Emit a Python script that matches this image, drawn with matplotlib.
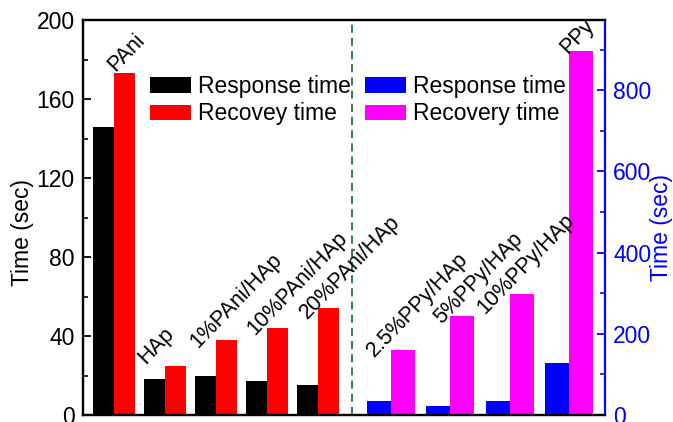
import numpy as np
import matplotlib
matplotlib.use("Agg")
import matplotlib.pyplot as plt
from matplotlib.ticker import MultipleLocator

plt.rcParams['font.family'] = ['Liberation Sans', 'DejaVu Sans']

# PAni / HAp series (left axis)
pani_labels = ["PAni", "HAp", "1%PAni/HAp", "10%PAni/HAp", "20%PAni/HAp"]
pani_response = [146, 18, 20, 17, 15]
pani_recovery = [173, 25, 38, 44, 54]

# PPy / HAp series (right axis)
ppy_labels = ["2.5%PPy/HAp", "5%PPy/HAp", "10%PPy/HAp", "PPy"]
ppy_response = [35, 23, 34, 128]
ppy_recovery = [160, 244, 298, 897]

FS = 16.5

fig = plt.figure(figsize=(6.73, 4.22), dpi=100)
ax = fig.add_axes([83/673, 1 - 415/422, (605-83)/673, (415-20)/422])
ax2 = ax.twinx()

# bar geometry
w1 = 0.41
x1 = np.arange(len(pani_labels)) * 1.0
w2 = 0.47
x2 = 5.43 + np.arange(len(ppy_labels)) * 1.163

ax.bar(x1 - w1/2, pani_response, w1, color='black', label='Response time')
ax.bar(x1 + w1/2, pani_recovery, w1, color='#ff0000', label='Recovey time')
ax2.bar(x2 - w2/2, ppy_response, w2, color='#0000ff', label='Response time')
ax2.bar(x2 + w2/2, ppy_recovery, w2, color='#ff00ff', label='Recovery time')

ax.axvline(4.67, color='#1b7a3c', lw=1.3, ls=(0, (4.5, 2.8)))

ax.set_xlim(-0.608, 9.627)
ax.set_ylim(0, 200)
ax2.set_ylim(0, 973)
ax.set_xticks([])

ax.yaxis.set_major_locator(MultipleLocator(40))
ax.yaxis.set_minor_locator(MultipleLocator(20))
ax2.yaxis.set_major_locator(MultipleLocator(200))
ax2.yaxis.set_minor_locator(MultipleLocator(100))

ax.tick_params(axis='y', which='major', direction='in', length=6, width=1.3,
               labelsize=FS, pad=6)
ax.tick_params(axis='y', which='minor', direction='in', length=3.5, width=1.2)
ax2.tick_params(axis='y', which='major', direction='in', length=6, width=1.3,
                labelsize=FS, pad=6, colors='#0000ff')
ax2.tick_params(axis='y', which='minor', direction='in', length=3.5, width=1.2,
                colors='#0000ff')

for s in ['left', 'top', 'bottom']:
    ax.spines[s].set_linewidth(1.6)
    ax2.spines[s].set_linewidth(1.6)
ax2.spines['right'].set_color('#0000ff')
ax2.spines['right'].set_linewidth(1.6)
ax.spines['right'].set_visible(False)

ax.set_ylabel("Time (sec)", fontsize=FS)
ax2.set_ylabel("Time (sec)", fontsize=FS, color='#0000ff')
ax.yaxis.set_label_coords(-0.093, 0.463)
ax2.yaxis.set_label_coords(1.087, 0.475)

# rotated category labels above each group
pani_offsets = [(22, 1), (2, 1), (3, -9), (9, -7), (10, -11)]
ppy_offsets = [(7, -7), (15, -9), (-1, -21), (23, -4)]
for xc, top, lab, (dx, dy) in zip(x1, pani_recovery, pani_labels, pani_offsets):
    ax.annotate(lab, xy=(xc - w1, top), xytext=(dx * 0.72, dy * 0.72),
                textcoords='offset points', rotation=46, rotation_mode='anchor',
                ha='left', va='baseline', fontsize=15.5)
for xc, top, lab, (dx, dy) in zip(x2, ppy_recovery, ppy_labels, ppy_offsets):
    ax2.annotate(lab, xy=(xc - w2, top), xytext=(dx * 0.72, dy * 0.72),
                 textcoords='offset points', rotation=46, rotation_mode='anchor',
                 ha='left', va='baseline', fontsize=15.5)

leg_kw = dict(loc='upper left', frameon=False, fontsize=FS, handlelength=1.8,
              handleheight=0.65, handletextpad=0.3, labelspacing=0.2,
              borderaxespad=0, borderpad=0)
ax.legend(bbox_to_anchor=(0.128, 0.861), **leg_kw)
ax2.legend(bbox_to_anchor=(0.540, 0.861), **leg_kw)

fig.savefig("out.png", dpi=100)
